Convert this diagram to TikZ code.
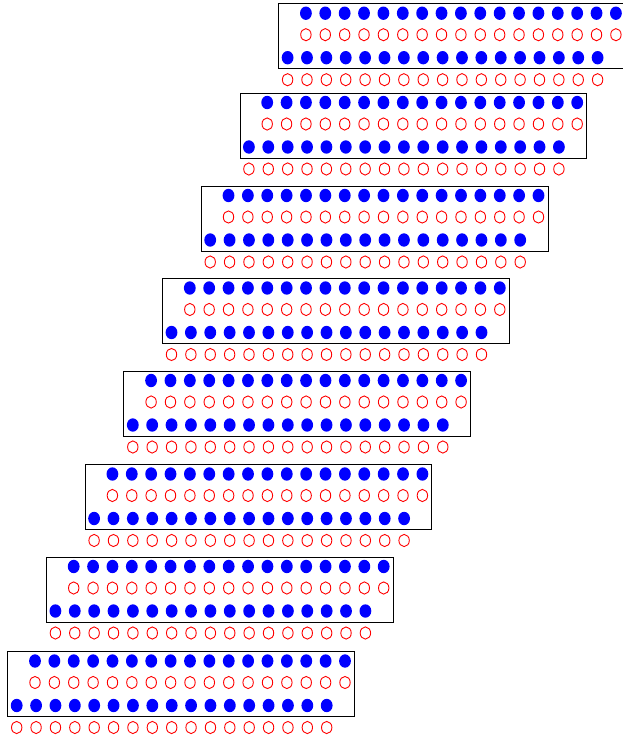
\documentclass[tikz,border=0pt]{standalone}
\usetikzlibrary{calc,shapes.geometric}
\definecolor{DotBlue}{HTML}{0000FF}
\definecolor{RingRed}{HTML}{FF0000}

\begin{document}
\begin{tikzpicture}[x=1pt,y=-1pt,
      tray/.style={draw=black,line width=0.9pt,inner sep=0pt,
      minimum width=346.7pt,minimum height=65pt,anchor=north west},
      full/.style={ellipse,fill=DotBlue,inner sep=0pt,minimum width=11.8pt,minimum height=13.4pt},
      ring/.style={ellipse,draw=RingRed,line width=0.9pt,inner sep=0pt,
      minimum width=10.4pt,minimum height=12.2pt}]
      \useasboundingbox (0,0) rectangle (623,739);
      \foreach \i/\T in {0/3.2,1/92.5,2/185.5,3/278,4/370.5,5/464,6/556.5,7/651}{
        \pgfmathsetmacro{\L}{278.2-38.7*\i}
        \node[tray] (tray\i) at (\L,\T) {};
        \foreach \j in {0,...,16}{
          % upper pair of rows, shifted right
          \node[full] (up\i-\j) at ($(tray\i.north west)+(27.7+19.375*\j,10)$) {};
          \node[ring] (upr\i-\j) at ($(tray\i.north west)+(27.7+19.375*\j,31.5)$) {};
          % lower pair of rows, shifted left
          \node[full] (lo\i-\j) at ($(tray\i.north west)+(9.4+19.375*\j,54.5)$) {};
          \node[ring] (lor\i-\j) at ($(tray\i.north west)+(9.4+19.375*\j,76.5)$) {};
        }
      }
    \end{tikzpicture}
\end{document}
